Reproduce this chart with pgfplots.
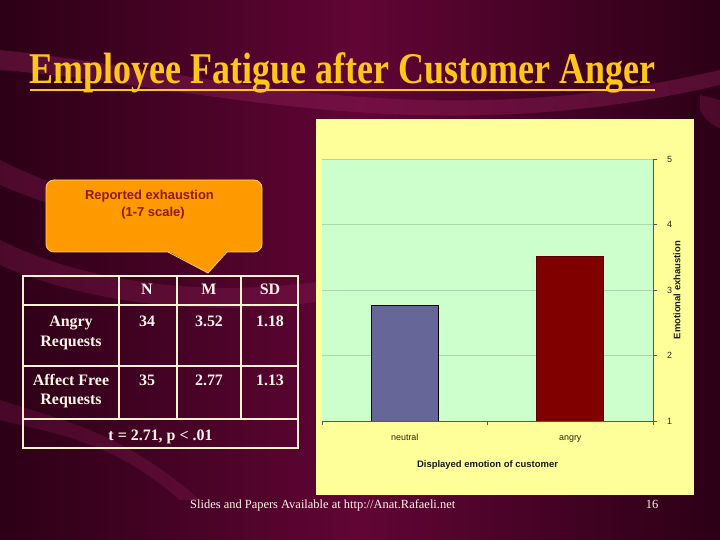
\documentclass[border=0pt]{standalone}
\usepackage{pgfplots}
\pgfplotsset{compat=1.18}
\usepackage{fontspec}
\setmainfont{Liberation Serif}
\newfontfamily\arial{Liberation Sans}
\definecolor{bgdark}{HTML}{2C0016}
\definecolor{bgmid}{HTML}{610535}
\definecolor{band}{HTML}{8A1D55}
\definecolor{gold}{HTML}{FFC61A}
\definecolor{panel}{HTML}{FFFF99}
\definecolor{plotgreen}{HTML}{CCFFCC}
\definecolor{gridgreen}{HTML}{A9D9A9}
\definecolor{neutralc}{HTML}{666699}
\definecolor{angryc}{HTML}{800000}
\definecolor{calloutfill}{HTML}{FF9900}
\definecolor{calloutline}{HTML}{FFD27A}
\definecolor{callouttext}{HTML}{8B1A1A}
\definecolor{tableline}{HTML}{FFF3D0}
\definecolor{tabletext}{HTML}{FFF6E8}
\begin{document}
\begin{tikzpicture}
\begin{scope}[x=1bp,y=1bp]
\useasboundingbox (0,0) rectangle (720,540);
% background
\shade[left color=bgdark, right color=bgdark, middle color=bgmid] (0,0) rectangle (720,540);
\begin{scope}
\clip (0,0) rectangle (720,540);
\fill[band, opacity=0.45] (0,490) .. controls (200,470) and (420,400) .. (720,470) -- (720,455) .. controls (420,385) and (200,455) .. (0,470) -- cycle;
\fill[band, opacity=0.35] (0,380) .. controls (60,350) and (120,330) .. (200,350) -- (200,330) .. controls (120,310) and (60,330) .. (0,355) -- cycle;
\fill[band, opacity=0.35] (0,300) .. controls (80,260) and (200,240) .. (330,260) -- (330,240) .. controls (200,220) and (80,240) .. (0,275) -- cycle;
\fill[band, opacity=0.3] (0,140) .. controls (60,120) and (120,110) .. (200,40) -- (180,40) .. controls (110,100) and (60,105) .. (0,120) -- cycle;
\fill[band, opacity=0.35] (700,430) .. controls (705,420) and (712,415) .. (720,412) -- (720,440) -- (700,445) -- cycle;
\end{scope}
% title
\node[anchor=base, text=gold, inner sep=0pt] at (342.5,456) {\resizebox{625bp}{\height}{\fontsize{44}{48}\selectfont\bfseries Employee Fatigue after Customer Anger}};
\draw[gold, line width=2bp] (30,450) -- (655,450);
% chart panel
\fill[panel] (316,45) rectangle (694,421);
% callout
\fill[calloutfill, draw=calloutline, line width=0.8bp, rounded corners=8bp] (46,288) rectangle (262,360);
\fill[calloutfill] (168,289) -- (208,267) -- (227,289) -- cycle;
\draw[calloutline, line width=0.8bp] (168,288) -- (208,267) -- (227,288);
\node[anchor=base, text=callouttext, inner sep=0pt] at (149.5,340) {\arial\bfseries\fontsize{13}{15}\selectfont Reported exhaustion};
\node[anchor=base, text=callouttext, inner sep=0pt] at (153,323.5) {\arial\bfseries\fontsize{13}{15}\selectfont (1-7 scale)};
% table
\begin{scope}[tableline, line width=1.5bp]
\draw (23,264) rectangle (298,92);
\draw (23,235) -- (298,235);
\draw (23,174) -- (298,174);
\draw (23,121) -- (298,121);
\draw (119,264) -- (119,121);
\draw (177,264) -- (177,121);
\draw (241,264) -- (241,121);
\end{scope}
\begin{scope}[every node/.style={anchor=base, text=tabletext, inner sep=0pt, font=\bfseries\fontsize{16}{18}\selectfont}]
\node at (147,245) {N};
\node at (209,245) {M};
\node at (270,245) {SD};
\node at (71,213.5) {Angry};
\node at (71,193) {Requests};
\node at (147,213.5) {34};
\node at (209,213.5) {3.52};
\node at (270,213.5) {1.18};
\node at (71,154) {Affect Free};
\node at (71,135) {Requests};
\node at (147,154) {35};
\node at (209,154) {2.77};
\node at (270,154) {1.13};
\node at (160.5,99) {t = 2.71, p < .01};
\end{scope}
% footer
\node[anchor=base west, text=tabletext, inner sep=0pt, font=\fontsize{12.5}{14}\selectfont] at (190,31) {Slides and Papers Available at http://Anat.Rafaeli.net};
\node[anchor=base, text=tabletext, inner sep=0pt, font=\fontsize{12.5}{14}\selectfont] at (652,31) {16};
\end{scope}
\begin{axis}[
  at={(322bp,119bp)}, anchor=south west,
  scale only axis, width=331bp, height=262bp,
  xmin=-0.5, xmax=1.5, ymin=1, ymax=5,
  axis x line=bottom, axis y line=right,
  axis line style={-, draw=black!65, line width=0.8pt},
  axis background/.style={fill=plotgreen},
  xtick={0,1}, xticklabels={neutral,angry},
  minor xtick={-0.5,0.5,1.5},
  major x tick style={draw=none},
  minor x tick style={draw=black!65, line width=0.8pt},
  minor tick length=4bp, major tick length=4bp,
  tick align=outside,
  ytick={1,2,3,4,5},
  y tick style={draw=black!65, line width=0.8pt},
  ymajorgrids, grid style={gridgreen, line width=0.6pt},
  /pgf/number format/assume math mode=true,
  ticklabel style={font=\arial\fontsize{9}{10}\selectfont, text=black!85},
  xticklabel style={yshift=-5bp, text height=7bp, text depth=2bp},
  yticklabel style={xshift=6.5bp},
  xlabel={Displayed emotion of customer},
  ylabel={Emotional exhaustion},
  every axis x label/.style={at={(rel axis cs:0.5,0)}, yshift=-44bp, anchor=center, font=\arial\bfseries\fontsize{9.5}{11}\selectfont, text=black!90},
  every axis y label/.style={at={(rel axis cs:1,0.5)}, xshift=24bp, rotate=90, anchor=center, font=\arial\bfseries\fontsize{9.5}{11}\selectfont, text=black!90},
  clip=true,
]
\addplot[ybar, bar shift=0pt, bar width=0.405, fill=neutralc, draw=black, line width=0.8pt] coordinates {(0,2.77)};
\addplot[ybar, bar shift=0pt, bar width=0.405, fill=angryc, draw=angryc!70!black, line width=0.8pt] coordinates {(1,3.52)};
\end{axis}
\end{tikzpicture}
\end{document}
